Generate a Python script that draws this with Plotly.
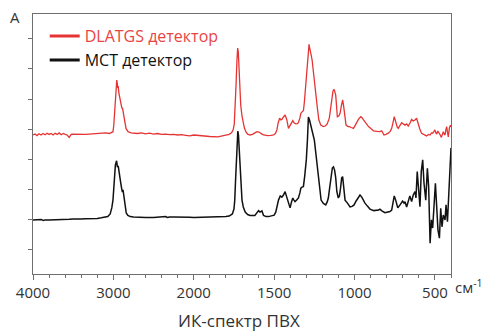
import numpy as np
import plotly.graph_objects as go

# ---- data (wavenumber, cm-1 ; absorbance, arb. units) ----
mct_wn = [4000, 3950, 3900, 3870, 3850, 3800, 3750, 3700, 3650, 3600, 3550, 3500, 3450, 3400,
          3350, 3300, 3250, 3200, 3150, 3100, 3070, 3040, 3020, 3005, 2990, 2975, 2960, 2950,
          2940, 2930, 2920, 2910, 2898, 2888, 2880, 2870, 2855, 2840, 2820, 2790, 2750, 2700,
          2600, 2500, 2400, 2350, 2330, 2300, 2250, 2200, 2150, 2100, 2050, 2000, 1900, 1850,
          1800, 1780, 1760, 1750, 1745, 1740, 1735, 1730, 1726, 1722, 1718, 1713, 1707, 1700,
          1692, 1680, 1665, 1650, 1620, 1605, 1597, 1588, 1576, 1566, 1550, 1535, 1515, 1500,
          1490, 1480, 1473, 1462, 1452, 1442, 1432, 1424, 1417, 1408, 1401, 1392, 1384, 1377,
          1370, 1360, 1349, 1340, 1334, 1325, 1318, 1310, 1300, 1293, 1287, 1280, 1272, 1266,
          1258, 1250, 1243, 1235, 1228, 1221, 1214, 1208, 1194, 1179, 1170, 1163, 1155, 1146,
          1138, 1131, 1124, 1117, 1110, 1101, 1094, 1087, 1080, 1074, 1068, 1059, 1044, 1028,
          1015, 1003, 990, 980, 966, 955, 945, 935, 920, 904, 880, 862, 850, 842, 830, 811,
          800, 790, 780, 769, 760, 753, 744, 731, 717, 701, 692, 686, 676, 666, 656, 645, 635,
          624, 618, 610, 601, 593, 585, 576, 568, 557, 547, 539, 530, 522, 514, 506, 497, 489,
          481, 472, 464, 456, 448, 437, 431, 422, 414, 404, 400]
mct_abs = [0.97, 0.97, 0.98, 0.95, 0.97, 0.97, 0.97, 0.98, 0.97, 0.98, 0.99, 1.00, 0.99, 1.00,
           1.01, 1.01, 1.02, 1.02, 1.04, 1.06, 1.08, 1.17, 1.37, 1.63, 2.30, 2.80, 2.94, 2.73,
           2.77, 2.63, 2.43, 2.23, 2.03, 1.90, 1.97, 1.77, 1.37, 1.20, 1.12, 1.08, 1.07, 1.06,
           1.05, 1.05, 1.06, 1.08, 1.05, 1.07, 1.07, 1.07, 1.08, 1.07, 1.06, 1.05, 1.06, 1.07,
           1.08, 1.10, 1.17, 1.33, 1.63, 2.30, 3.13, 3.77, 3.93, 3.80, 3.37, 2.70, 2.03, 1.63,
           1.40, 1.23, 1.15, 1.12, 1.12, 1.23, 1.28, 1.23, 1.27, 1.12, 1.08, 1.08, 1.10, 1.13,
           1.23, 1.47, 1.63, 1.77, 1.73, 1.80, 1.91, 1.77, 1.63, 1.43, 1.37, 1.57, 1.70, 1.63,
           1.58, 1.63, 1.70, 1.87, 2.03, 2.07, 2.08, 2.43, 2.97, 3.63, 4.40, 4.30, 4.13, 4.07,
           3.87, 3.63, 3.30, 2.90, 2.50, 2.13, 1.80, 1.63, 1.52, 1.47, 1.57, 1.70, 2.03, 2.47,
           2.70, 2.74, 2.63, 2.37, 1.91, 1.70, 1.77, 2.03, 2.37, 2.41, 2.10, 1.63, 1.53, 1.40,
           1.42, 1.47, 1.60, 1.70, 1.80, 1.73, 1.60, 1.53, 1.43, 1.33, 1.28, 1.28, 1.30, 1.33, 1.27, 1.21,
           1.22, 1.23, 1.25, 1.30, 1.53, 1.77, 1.63, 1.37, 1.47, 1.60, 1.53, 1.58, 1.40, 1.58, 1.77, 1.58, 1.80,
           1.91, 1.70, 2.58, 1.91, 1.41, 2.58, 2.97, 2.20, 1.63, 2.69, 2.08, 0.19, 0.97, 0.70, 1.41, 2.19, 1.41,
           0.63, 0.36, 1.36, 0.74, 1.13, 0.97, 1.47, 0.91, 1.80, 3.30, 3.37]

dlatgs_wn = [4000, 3975, 3950, 3925, 3900, 3875, 3850, 3825, 3800, 3775, 3750, 3725, 3700, 3675,
             3650, 3625, 3600, 3575, 3550, 3525, 3500, 3450, 3400, 3350, 3300, 3250, 3200, 3150,
             3100, 3050, 3020, 3005, 2995, 2985, 2975, 2965, 2958, 2952, 2946, 2940, 2932, 2920,
             2905, 2895, 2886, 2878, 2868, 2855, 2843, 2818, 2780, 2700, 2650, 2600, 2550, 2500,
             2450, 2400, 2350, 2300, 2250, 2200, 2150, 2100, 2050, 2000, 1950, 1900, 1850, 1820,
             1800, 1780, 1765, 1755, 1748, 1742, 1737, 1732, 1727, 1723, 1719, 1714, 1708, 1700,
             1692, 1685, 1675, 1665, 1650, 1635, 1620, 1607, 1595, 1587, 1575, 1566, 1540, 1520,
             1504, 1492, 1483, 1475, 1466, 1458, 1452, 1442, 1432, 1425, 1421, 1411, 1400, 1392,
             1384, 1375, 1365, 1356, 1349, 1340, 1334, 1325, 1318, 1312, 1306, 1300, 1293, 1287,
             1283, 1279, 1275, 1270, 1264, 1256, 1250, 1244, 1237, 1231, 1222, 1210, 1195, 1182,
             1170, 1157, 1150, 1142, 1134, 1127, 1121, 1117, 1112, 1107, 1098, 1090, 1082, 1074,
             1068, 1063, 1053, 1040, 1032, 1020, 1007, 995, 986, 975, 961, 952, 944, 930, 913,
             895, 882, 860, 842, 831, 822, 817, 805, 790, 778, 769, 760, 753, 747, 742, 735, 728,
             718, 707, 697, 686, 676, 666, 655, 645, 635, 624, 614, 604, 594, 583, 570, 560, 552,
             540, 530, 522, 514, 506, 500, 494, 489, 482, 475, 467, 460, 453, 448, 442, 437, 432,
             427, 422, 417, 410, 404, 400]
dlatgs_abs = [3.80, 3.83, 3.78, 3.84, 3.80, 3.85, 3.81, 3.86, 3.82, 3.85, 3.80, 3.86, 3.82, 3.87,
              3.81, 3.85, 3.82, 3.80, 3.72, 3.82, 3.83, 3.82, 3.83, 3.82, 3.83, 3.84, 3.85, 3.86,
              3.87, 3.85, 3.88, 3.91, 4.13, 4.53, 4.97, 5.37, 5.63, 5.53, 5.37, 5.43, 5.20, 5.03,
              4.87, 4.70, 4.69, 4.57, 4.30, 4.13, 4.02, 3.91, 3.87, 3.85, 3.87, 3.84, 3.86, 3.83,
              3.85, 3.82, 3.83, 3.81, 3.82, 3.80, 3.81, 3.79, 3.77, 3.80, 3.77, 3.75, 3.74, 3.78,
              3.80, 3.82, 3.87, 3.97, 4.17, 4.70, 5.47, 6.23, 6.70, 6.57, 6.03, 5.37, 4.80, 4.43,
              4.17, 4.03, 3.90, 3.83, 3.80, 3.82, 3.87, 3.91, 3.90, 3.88, 3.83, 3.80, 3.78, 3.79,
              3.80, 3.85, 3.97, 4.20, 4.36, 4.30, 4.32, 4.40, 4.47, 4.37, 4.30, 4.02, 4.13, 4.25,
              4.28, 4.20, 4.17, 4.18, 4.21, 4.37, 4.52, 4.58, 4.61, 4.90, 5.30, 5.83, 6.37, 6.73,
              6.82, 6.70, 6.63, 6.47, 6.30, 5.86, 5.53, 5.24, 4.97, 4.69, 4.30, 4.13, 4.08, 4.10,
              4.17, 4.36, 4.63, 4.97, 5.27, 5.32, 5.23, 5.13, 4.77, 4.41, 4.43, 4.52, 4.77, 4.97,
              4.77, 4.52, 4.13, 4.08, 4.08, 4.05, 4.02, 4.13, 4.24, 4.33, 4.41, 4.37, 4.30, 4.18, 4.08,
              4.00, 3.94, 3.92, 3.91, 3.94, 3.87, 3.80, 3.82, 3.86, 3.92, 4.02, 4.23, 4.41, 4.30, 4.19, 4.07, 4.02,
              4.13, 4.21, 4.17, 4.13, 4.17, 4.10, 4.20, 4.32, 4.27, 4.30, 4.36, 4.13, 4.00, 3.86, 3.83, 3.78, 3.77,
              3.82, 3.80, 3.87, 3.86, 3.92, 3.97, 3.87, 3.83, 3.93, 3.88, 3.80, 3.72, 3.87, 3.91, 3.83, 3.80, 3.97,
              4.08, 3.90, 3.74, 4.03, 4.13, 4.07]

tick_wn = [4000, 3000, 2000, 1500, 1000, 500]
tick_labels = ["4000", "3000", "2000", "1500", "1000", "500"]
series_names = ["DLATGS детектор", "MCT детектор"]

RED = "#e63434"
BLACK = "#111111"


def wn_to_u(wn):
    """Split FTIR abscissa: 4000-2000 compressed 2x relative to 2000-400."""
    wn = np.asarray(wn, dtype=float)
    return np.where(wn >= 2000, (4000 - wn) / 2000.0, 1.0 + (2000 - wn) / 1000.0)


fig = go.Figure()
fig.add_trace(go.Scatter(x=wn_to_u(dlatgs_wn), y=dlatgs_abs, mode="lines",
                         line=dict(color=RED, width=1.3), showlegend=False))
fig.add_trace(go.Scatter(x=wn_to_u(mct_wn), y=mct_abs, mode="lines",
                         line=dict(color=BLACK, width=1.5), showlegend=False))
# legend entries
fig.add_trace(go.Scatter(x=[None], y=[None], mode="lines", line=dict(color=RED, width=3),
                         name='<span style="color:#e84444">' + series_names[0] + '</span>'))
fig.add_trace(go.Scatter(x=[None], y=[None], mode="lines", line=dict(color=BLACK, width=3),
                         name=series_names[1]))

font = dict(family="Open Sans, sans-serif", size=15, color="#333333")
axis_line = "#6e6e6e"

fig.update_layout(
    width=482, height=331,
    margin=dict(l=33, r=31, t=14, b=57),
    paper_bgcolor="white", plot_bgcolor="white",
    font=font,
    showlegend=True,
    legend=dict(x=0.028, y=0.98, xanchor="left", yanchor="top",
                bgcolor="rgba(0,0,0,0)", font=dict(family="Open Sans, sans-serif", size=16, color="#111111"),
                tracegroupgap=0, itemwidth=30),
    xaxis=dict(range=[0, 2.6], tickmode="array", tickvals=list(wn_to_u(tick_wn)), ticktext=tick_labels,
               ticks="outside", ticklen=5, tickcolor=axis_line, showline=True, linecolor=axis_line,
               linewidth=1.3, mirror=True, showgrid=False, zeroline=False,
               minor=dict(tick0=0, dtick=0.1, ticks="outside", ticklen=3, tickcolor=axis_line,
                          showgrid=False),
               tickfont=font),
    yaxis=dict(range=[-0.833, 7.833], tickmode="array", tickvals=list(range(8)), showticklabels=False,
               ticks="outside", ticklen=4, tickcolor=axis_line, showline=True, linecolor=axis_line,
               linewidth=1.3, mirror=True, showgrid=False, zeroline=False),
    annotations=[
        dict(text="A", xref="paper", yref="paper", x=-0.043, y=0.99, xanchor="center",
             yanchor="middle", showarrow=False, font=font),
        dict(text="см<sup>-1</sup>", xref="paper", yref="paper", x=1.005, y=-0.047,
             xanchor="left", yanchor="middle", showarrow=False, font=font),
        dict(text="ИК-спектр ПВХ", xref="paper", yref="paper", x=0.492, y=-0.18,
             xanchor="center", yanchor="middle", showarrow=False,
             font=dict(family="Open Sans, sans-serif", size=17, color="#333333")),
    ],
)

fig.write_html("out.html")
